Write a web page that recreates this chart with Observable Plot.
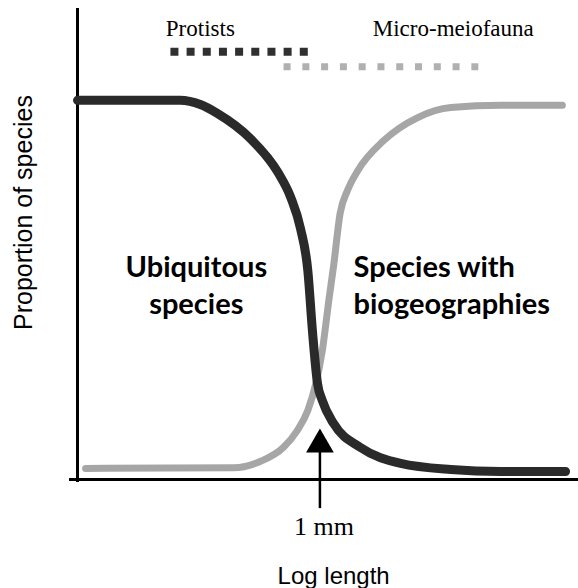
<!DOCTYPE html>
<html>
<head>
<meta charset="utf-8">
<script src="https://cdn.jsdelivr.net/npm/d3@7"></script>
<script src="https://cdn.jsdelivr.net/npm/@observablehq/plot@0.6"></script>
<style>
  html, body { margin: 0; padding: 0; background: #fff; }
</style>
</head>
<body>
<div id="chart"></div>
<script>
// Log length (log10 mm; 0 = 1 mm) and proportion of species
const ubiquitousLogLength = [-3.0, -1.73, -1.48, -1.27, -0.86, -0.52, -0.36, -0.24, -0.15, -0.09, -0.03, 0.03, 0.17, 0.50, 1.00, 1.62, 2.24, 3.04];
const ubiquitousProportion = [0.99, 0.99, 0.979, 0.956, 0.890, 0.802, 0.736, 0.655, 0.546, 0.381, 0.251, 0.206, 0.146, 0.084, 0.042, 0.026, 0.021, 0.021];

const biogeoLogLength = [-2.90, -1.07, -0.74, -0.45, -0.28, -0.15, -0.05, 0.03, 0.11, 0.17, 0.25, 0.342, 0.47, 0.79, 1.21, 1.62, 2.24, 3.00];
const biogeoProportion = [0.029, 0.031, 0.047, 0.084, 0.128, 0.180, 0.251, 0.337, 0.467, 0.559, 0.695, 0.755, 0.807, 0.885, 0.945, 0.971, 0.977, 0.977];

// Organism size ranges (log length)
const groupNames = ["Protists", "Micro-meiofauna"];
const groupFrom = [-1.85, -0.45];
const groupTo = [-0.15, 1.96];
const groupLevel = [1.117, 1.078];
const groupLabelX = [-1.48, 1.65];
const groupLabelLevel = 1.159;

// Region annotations
const regionText = ["Ubiquitous\nspecies", "Species with\nbiogeographies"];
const regionX = [-1.53, 0.416];
const regionLevel = 0.433;

// 1 mm marker
const markerLogLength = 0;
const markerText = "1 mm";

const xLabel = "Log length";
const yLabel = "Proportion of species";

const ubiq = ubiquitousLogLength.map((x, i) => ({x, y: ubiquitousProportion[i]}));
const bio = biogeoLogLength.map((x, i) => ({x, y: biogeoProportion[i]}));
const groups = groupNames.map((g, i) => ({g, x1: groupFrom[i], x2: groupTo[i], y: groupLevel[i], lx: groupLabelX[i]}));
const regions = regionText.map((t, i) => ({t, x: regionX[i], y: regionLevel}));

const serif = "'Liberation Serif', 'Times New Roman', serif";
const sans = "'Liberation Sans', Arial, sans-serif";

const chart = Plot.plot({
  width: 578,
  height: 588,
  marginLeft: 77,
  marginRight: 0,
  marginTop: 10,
  marginBottom: 109,
  x: {domain: [-3, 3.2], axis: null},
  y: {domain: [0, 1], range: [479, 96], axis: null},
  style: {background: "#fff", overflow: "visible"},
  marks: [
    // axes
    Plot.ruleX([-3], {stroke: "#000", strokeWidth: 3, insetBottom: -3, insetTop: -2}),
    Plot.ruleY([0], {stroke: "#000", strokeWidth: 3, insetLeft: -8}),
    // curves
    Plot.line(bio, {x: "x", y: "y", stroke: "#a6a6a6", strokeWidth: 7, curve: "monotone-x", strokeLinecap: "round"}),
    Plot.line(ubiq, {x: "x", y: "y", stroke: "#2a2a2a", strokeWidth: 9, curve: "monotone-x", strokeLinecap: "round"}),
    // size ranges
    Plot.link(groups.slice(0, 1), {x1: "x1", x2: "x2", y1: "y", y2: "y", stroke: "#303030", strokeWidth: 8, strokeDasharray: "8,8.17", strokeLinecap: "butt"}),
    Plot.link(groups.slice(1), {x1: "x1", x2: "x2", y1: "y", y2: "y", stroke: "#b0b0b0", strokeWidth: 7, strokeDasharray: "7,11.78", strokeLinecap: "butt"}),
    Plot.text(groups, {x: "lx", y: () => groupLabelLevel, text: "g", fontFamily: serif, fontSize: 23, lineAnchor: "bottom", fill: "#000"}),
    // region labels
    Plot.text(regions.slice(0, 1), {x: "x", y: "y", text: "t", fontFamily: "Lato, 'Open Sans', sans-serif", fontWeight: 700, fontSize: 29, lineHeight: 1.28, lineAnchor: "bottom", textAnchor: "middle", fill: "#000"}),
    Plot.text(regions.slice(1), {x: "x", y: "y", text: "t", fontFamily: "Lato, 'Open Sans', sans-serif", fontWeight: 700, fontSize: 29, lineHeight: 1.28, lineAnchor: "bottom", textAnchor: "start", fill: "#000"}),
    // 1 mm arrow
    Plot.ruleX([markerLogLength], {y1: -0.076, y2: 0.075, stroke: "#000", strokeWidth: 2.5}),
    Plot.dot([markerLogLength], {x: d => d, y: 0.0914, symbol: "triangle", r: 10.29, fill: "#000", stroke: "none"}),
    Plot.text([markerText], {x: markerLogLength, y: -0.146, dx: 4, text: d => d, fontFamily: serif, fontSize: 26, lineAnchor: "bottom", fill: "#000"}),
    // axis titles
    Plot.text([xLabel], {x: 0.17, y: -0.272, text: d => d, fontFamily: sans, fontSize: 24, lineAnchor: "bottom", fill: "#000"}),
    Plot.text([yLabel], {frameAnchor: "left", y: 0.697, dx: -46, rotate: -90, text: d => d, fontFamily: sans, fontSize: 25, lineAnchor: "bottom", textAnchor: "middle", fill: "#000"})
  ]
});
document.getElementById("chart").appendChild(chart);
</script>
</body>
</html>
